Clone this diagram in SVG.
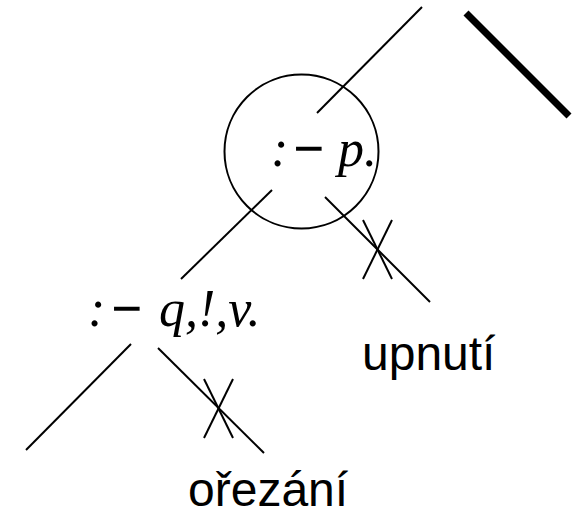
<svg xmlns="http://www.w3.org/2000/svg" width="581" height="518" viewBox="0 0 581 518">
<style>
.e{stroke:#000;stroke-width:2;fill:none;stroke-linecap:butt}
.thick{stroke:#000;stroke-width:7;fill:none}
.f{font-family:"Liberation Serif","Times New Roman",serif;font-size:52px;fill:#000}
.i{font-style:italic}
.m{stroke:#000;stroke-width:1.4}
.l{font-family:"Liberation Sans",Arial,sans-serif;font-size:48px;fill:#000}
</style>
<g id="connectors">
<line class="e" x1="422" y1="7" x2="317" y2="113"/>
<line class="thick" x1="466" y1="13" x2="569" y2="116"/>
<line class="e" x1="272" y1="190" x2="181" y2="279"/>
<line class="e" x1="325" y1="197" x2="430" y2="302"/>
<line class="e" x1="363" y1="220" x2="392" y2="279"/>
<line class="e" x1="392" y1="220" x2="363" y2="279"/>
<line class="e" x1="131" y1="344" x2="26" y2="450"/>
<line class="e" x1="158" y1="348" x2="264" y2="453"/>
<line class="e" x1="204" y1="379" x2="233" y2="438"/>
<line class="e" x1="233" y1="379" x2="204" y2="438"/>
</g>
<g id="node-p">
<circle cx="301.5" cy="151.5" r="77" class="e"/>
<text class="f i" x="271" y="166">:</text>
<text class="f m" x="294" y="166">−</text>
<text class="f i" x="338" y="166">p.</text>
</g>
<g id="node-q">
<text class="f i" x="88" y="326">:</text>
<text class="f m" x="112" y="326">−</text>
<text class="f i" x="159" y="326">q,!,v.</text>
</g>
<g id="label-upnuti">
<text class="l" x="362" y="370">upnutí</text>
</g>
<g id="label-orezani">
<text class="l" x="188" y="506">ořezání</text>
</g>
</svg>
